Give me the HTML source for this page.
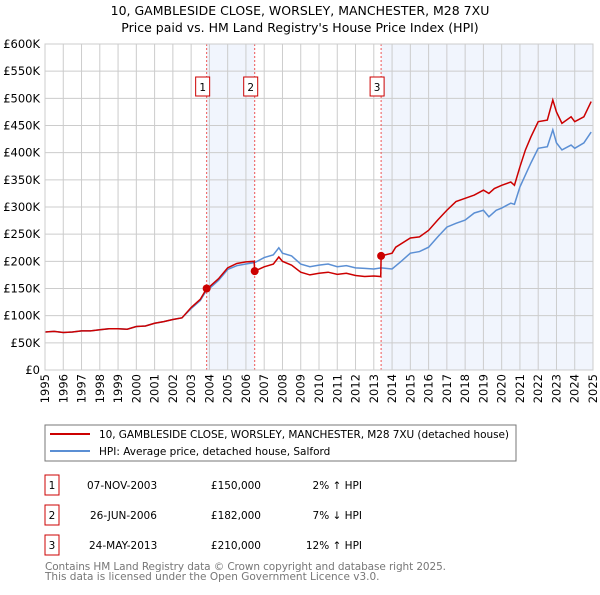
<!DOCTYPE html>
<html><head><meta charset="utf-8"><style>
body{margin:0;background:#fff;font-family:"Liberation Sans","DejaVu Sans",sans-serif}
svg text{font-family:"DejaVu Sans","Liberation Sans",sans-serif}
</style></head><body>
<svg id="c" width="600" height="590" viewBox="0 0 600 590">
<text x="300" y="15" text-anchor="middle" font-size="12.5">10, GAMBLESIDE CLOSE, WORSLEY, MANCHESTER, M28 7XU</text>
<text x="300" y="32" text-anchor="middle" font-size="12.5">Price paid vs. HM Land Registry's House Price Index (HPI)</text>
<g id="plot"></g>
<g>
<rect x="45" y="425" width="471" height="36" fill="#fff" stroke="#777"/>
<line x1="50" y1="434" x2="90" y2="434" stroke="#cc0000" stroke-width="2"/>
<text x="99" y="438" font-size="10.5" textLength="410">10, GAMBLESIDE CLOSE, WORSLEY, MANCHESTER, M28 7XU (detached house)</text>
<line x1="50" y1="451" x2="90" y2="451" stroke="#5b8fd4" stroke-width="2"/>
<text x="99" y="455" font-size="10.5">HPI: Average price, detached house, Salford</text>
</g>
<g font-size="10.5">
<rect x="45" y="475" width="14" height="20" fill="#fff" stroke="#cc0000"/><text x="52" y="489" text-anchor="middle">1</text>
<text x="87" y="489">07-NOV-2003</text><text x="261" y="489" text-anchor="end">£150,000</text><text x="362" y="489" text-anchor="end">2% ↑ HPI</text>
<rect x="45" y="505" width="14" height="20" fill="#fff" stroke="#cc0000"/><text x="52" y="519" text-anchor="middle">2</text>
<text x="90" y="519">26-JUN-2006</text><text x="261" y="519" text-anchor="end">£182,000</text><text x="362" y="519" text-anchor="end">7% ↓ HPI</text>
<rect x="45" y="535" width="14" height="20" fill="#fff" stroke="#cc0000"/><text x="52" y="549" text-anchor="middle">3</text>
<text x="89" y="549">24-MAY-2013</text><text x="261" y="549" text-anchor="end">£210,000</text><text x="362" y="549" text-anchor="end">12% ↑ HPI</text>
</g>
<text x="45" y="570" font-size="10.5" fill="#777" textLength="401">Contains HM Land Registry data © Crown copyright and database right 2025.</text>
<text x="45" y="580" font-size="10.5" fill="#777">This data is licensed under the Open Government Licence v3.0.</text>
</svg>
<script>
const yTicks=[0,50,100,150,200,250,300,350,400,450,500,550,600];
const years=[1995,1996,1997,1998,1999,2000,2001,2002,2003,2004,2005,2006,2007,2008,2009,2010,2011,2012,2013,2014,2015,2016,2017,2018,2019,2020,2021,2022,2023,2024,2025];
const hpiDates=[1995,1995.5,1996,1996.5,1997,1997.5,1998,1998.5,1999,1999.5,2000,2000.5,2001,2001.5,2002,2002.5,2003,2003.5,2003.85,2004,2004.5,2005,2005.5,2006,2006.5,2007,2007.5,2007.8,2008,2008.5,2009,2009.5,2010,2010.5,2011,2011.5,2012,2012.5,2013,2013.4,2014,2014.5,2015,2015.5,2016,2016.5,2017,2017.5,2018,2018.5,2019,2019.3,2019.7,2020,2020.5,2020.7,2021,2021.3,2021.6,2022,2022.5,2022.8,2023,2023.3,2023.8,2024,2024.5,2024.9];
const hpiValues=[70,71,69,70,72,72,74,76,76,75,80,81,86,89,93,96,113,128,147,150,165,185,192,195,198,207,212,225,215,210,195,190,193,195,190,192,188,187,186,188,186,200,215,218,226,245,263,270,276,289,294,282,294,298,307,305,337,359,381,408,411,442,418,405,414,408,418,438];
const redDates=[1995,1995.5,1996,1996.5,1997,1997.5,1998,1998.5,1999,1999.5,2000,2000.5,2001,2001.5,2002,2002.5,2003,2003.5,2003.85,2004,2004.5,2005,2005.5,2006,2006.45,2006.48,2007,2007.5,2007.8,2008,2008.5,2009,2009.5,2010,2010.5,2011,2011.5,2012,2012.5,2013,2013.38,2013.4,2014,2014.2,2015,2015.5,2016,2016.5,2017,2017.5,2018,2018.5,2019,2019.3,2019.6,2020,2020.5,2020.7,2021,2021.3,2021.6,2022,2022.5,2022.8,2023,2023.3,2023.8,2024,2024.5,2024.9];
const redValues=[70,71,69,70,72,72,74,76,76,75,80,81,86,89,93,96,115,130,150,153,168,188,196,199,200,182,190,195,208,200,193,180,175,178,180,176,178,174,172,173,172,210,215,226,243,245,257,276,294,310,316,322,331,325,334,340,346,340,374,405,429,457,460,497,475,454,466,457,466,494];
const saleDates=[2003.85,2006.48,2013.4];
const saleValues=[150,182,210];
const saleLabels=["1","2","3"];
const NS="http://www.w3.org/2000/svg";
const X0=45,X1=593,Y0=370,Y1=44;
const xs=d=>X0+(d-1995)/30*(X1-X0);
const ys=v=>Y0-v/600*(Y0-Y1);
const g=document.getElementById('plot');
function mk(t,a){const e=document.createElementNS(NS,t);for(const k in a)e.setAttribute(k,a[k]);g.appendChild(e);return e;}
let s1=mk('rect',{x:xs(saleDates[0]),y:Y1,width:xs(saleDates[1])-xs(saleDates[0]),height:Y0-Y1,fill:'#eef3fc',opacity:0.8});


let s2=mk('rect',{x:xs(saleDates[2]),y:Y1,width:X1-xs(saleDates[2]),height:Y0-Y1,fill:'#eef3fc',opacity:0.8});


yTicks.forEach(v=>{
 let l=mk('line',{x1:X0,x2:X1,y1:ys(v),y2:ys(v),stroke:'#ccc'});
 
 
 let t=mk('text',{x:40,y:ys(v)+4,'text-anchor':'end','font-size':11.5});
 
 
 t.textContent=v===0?'£0':'£'+v+'K';
});
years.forEach(yr=>{
 let l=mk('line',{x1:xs(yr),x2:xs(yr),y1:Y1,y2:Y0,stroke:'#ccc'});
 
 
 let t=mk('text',{x:0,y:0,'text-anchor':'end','font-size':11.5,transform:`translate(${xs(yr)+4},374) rotate(-90)`});
 
 
 t.textContent=yr;
});
saleDates.forEach((d,i)=>{
 let l=mk('line',{x1:xs(d),x2:xs(d),y1:Y1,y2:Y0,stroke:'#e55','stroke-dasharray':'2,2'});
 
 
 let r=mk('rect',{x:xs(d)-11,y:77,width:14,height:19,fill:'#fff',stroke:'#cc0000'});
 
 
 let t=mk('text',{x:xs(d)-4,y:91,'text-anchor':'middle','font-size':10.5});
 
 
 t.textContent=saleLabels[i];
});
let hp=mk('polyline',{points:hpiDates.map((d,i)=>xs(d)+','+ys(hpiValues[i])).join(' '),fill:'none',stroke:'#5b8fd4','stroke-width':1.5});


let rp=mk('polyline',{points:redDates.map((d,i)=>xs(d)+','+ys(redValues[i])).join(' '),fill:'none',stroke:'#cc0000','stroke-width':1.5});


saleDates.forEach((d,i)=>{
 let c=mk('circle',{cx:xs(d),cy:ys(saleValues[i]),r:4,fill:'#cc0000'});
 
 
});
let b=mk('rect',{x:X0,y:Y1,width:X1-X0,height:Y0-Y1,fill:'none',stroke:'#ccc'});


</script>
</body></html>
